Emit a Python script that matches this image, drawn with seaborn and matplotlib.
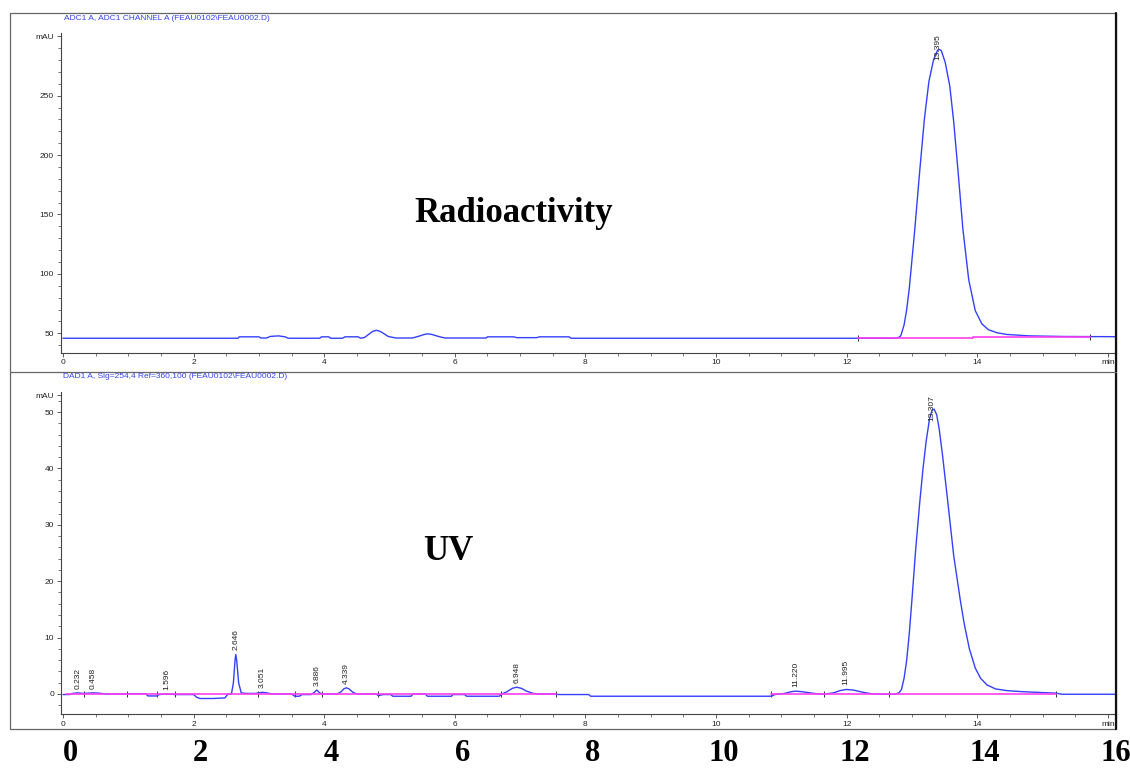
import numpy as np
import pandas as pd
import matplotlib
matplotlib.use("Agg")
import matplotlib.pyplot as plt
from matplotlib.patches import Rectangle
from matplotlib.lines import Line2D
from matplotlib.ticker import MultipleLocator
import seaborn as sns

# ---------------- data ----------------
# Radioactivity trace (ADC1 channel A), time in min, signal in mAU
ra_time = [0.00, 2.68, 2.70, 3.00, 3.03, 3.12, 3.17, 3.30, 3.40, 3.45,
           3.93, 3.96, 4.07, 4.10, 4.28, 4.32, 4.52, 4.56, 4.62, 4.68,
           4.74, 4.80, 4.86, 4.92, 4.98, 5.10, 5.35, 5.45, 5.52, 5.58,
           5.65, 5.75, 5.85, 6.48, 6.50, 6.90, 6.95, 7.25, 7.30, 7.75,
           7.78, 12.70, 12.80, 12.83, 12.88, 12.92, 12.96, 13.04, 13.12, 13.19,
           13.26, 13.33, 13.39, 13.42, 13.45, 13.51, 13.58, 13.64, 13.71, 13.78,
           13.87, 13.97, 14.07, 14.17, 14.30, 14.45, 14.80, 15.30, 16.12]
ra_signal = [45.8, 45.8, 47.0, 47.0, 46.0, 46.0, 47.3, 47.8, 47.0, 45.8,
             45.8, 47.0, 47.0, 45.8, 45.8, 47.0, 47.0, 45.8, 46.5, 49.0,
             51.5, 52.5, 51.5, 49.5, 47.3, 46.0, 46.0, 47.5, 48.8, 49.5,
             49.0, 47.3, 46.0, 46.0, 47.0, 47.0, 46.3, 46.3, 47.0, 47.0,
             45.8, 45.8, 46.5, 48.0, 57.0, 70.0, 88.0, 135.0, 187.0, 230.0,
             262.0, 280.0, 288.0, 289.0, 288.0, 278.0, 258.0, 228.0, 184.0, 138.0,
             95.0, 69.0, 58.0, 53.0, 50.5, 49.0, 47.8, 47.3, 47.1]
ra_base_time = [12.18, 13.94, 13.94, 15.73]
ra_base_signal = [45.8, 45.8, 47.2, 47.2]
ra_base_seg = [0, 0, 1, 1]
ra_event_time = [12.18, 15.73]
ra_event_signal = [45.8, 47.2]
ra_peak_rt = [13.395]
ra_peak_label = ["13.395"]

# UV trace (DAD1 A, Sig=254,4)
uv_time = [0.00, 0.10, 0.15, 0.232, 0.30, 0.40, 0.458, 0.55, 0.65, 0.98,
           1.00, 1.27, 1.30, 1.44, 1.47, 1.596, 1.72, 2.00, 2.05, 2.10,
           2.30, 2.48, 2.52, 2.58, 2.61, 2.635, 2.646, 2.66, 2.69, 2.73,
           2.80, 2.95, 3.00, 3.051, 3.12, 3.20, 3.50, 3.55, 3.62, 3.66,
           3.80, 3.85, 3.886, 3.93, 3.97, 4.20, 4.26, 4.30, 4.339, 4.38,
           4.44, 4.50, 4.80, 4.83, 4.90, 5.02, 5.05, 5.33, 5.36, 5.55,
           5.58, 5.95, 5.97, 6.15, 6.18, 6.68, 6.72, 6.80, 6.88, 6.948,
           7.02, 7.10, 7.20, 7.30, 7.50, 7.60, 8.05, 8.08, 10.85, 10.90,
           11.05, 11.15, 11.22, 11.32, 11.50, 11.65, 11.80, 11.90, 11.995, 12.10,
           12.25, 12.40, 12.65, 12.75, 12.80, 12.84, 12.88, 12.92, 12.96, 13.00,
           13.06, 13.12, 13.17, 13.22, 13.27, 13.31, 13.34, 13.38, 13.42, 13.47,
           13.55, 13.64, 13.74, 13.80, 13.88, 13.97, 14.05, 14.15, 14.28, 14.45,
           14.70, 15.00, 15.20, 15.30, 16.12]
uv_signal = [-0.1, -0.1, 0.1, 0.2, 0.1, 0.15, 0.2, 0.15, 0.0, 0.0,
             0.05, 0.05, -0.35, -0.35, -0.1, 0.0, -0.1, -0.1, -0.6, -0.8,
             -0.8, -0.7, -0.1, 0.0, 2.0, 6.0, 7.0, 6.0, 2.0, 0.2,
             0.1, 0.1, 0.2, 0.3, 0.2, 0.0, 0.0, -0.4, -0.4, -0.1,
             -0.1, 0.3, 0.7, 0.2, 0.0, 0.0, 0.4, 0.9, 1.1, 0.9,
             0.3, 0.0, 0.0, -0.3, -0.1, -0.1, -0.4, -0.4, 0.0, 0.0,
             -0.4, -0.4, -0.1, -0.1, -0.4, -0.4, 0.0, 0.4, 1.0, 1.2,
             1.0, 0.5, 0.1, 0.0, 0.0, -0.1, -0.1, -0.4, -0.4, -0.1,
             0.1, 0.4, 0.5, 0.4, 0.1, -0.05, 0.2, 0.6, 0.8, 0.7,
             0.3, 0.0, -0.05, 0.0, 0.2, 0.8, 2.8, 6.0, 10.8, 16.7,
             26.0, 34.0, 40.0, 45.0, 48.8, 50.4, 50.5, 49.5, 46.8, 42.2,
             34.0, 24.5, 16.7, 12.5, 8.0, 4.6, 2.8, 1.6, 0.9, 0.6,
             0.4, 0.25, 0.15, -0.05, -0.05]
uv_base_time = [0.05, 0.65, 0.68, 7.55, 10.84, 15.20]
uv_base_signal = [0.05, 0.05, 0.0, 0.0, 0.0, 0.0]
uv_base_seg = [0, 0, 1, 1, 2, 2]
uv_event_time = [0.32, 0.98, 1.44, 1.72, 2.98, 3.55, 3.97, 4.83, 6.70, 7.55,
                 10.84, 11.65, 12.65, 15.20]
uv_event_signal = [0.0] * len(uv_event_time)
uv_peak_rt = [0.232, 0.458, 1.596, 2.646, 3.051, 3.886, 4.339, 6.948,
              11.220, 11.995, 13.307]
uv_peak_label = ["0.232", "0.458", "1.596", "2.646", "3.051", "3.886",
                 "4.339", "6.948", "11.220", "11.995", "13.307"]

time_ticks = [0, 2, 4, 6, 8, 10, 12, 14, 16]
time_tick_labels = ["0", "2", "4", "6", "8", "10", "12", "14", "min"]
ra_yticks = [50, 100, 150, 200, 250, 300]
ra_ytick_labels = ["50", "100", "150", "200", "250", "mAU"]
uv_yticks = [0, 10, 20, 30, 40, 50, 53]
uv_ytick_labels = ["0", "10", "20", "30", "40", "50", "mAU"]
scale_ticks = [0, 2, 4, 6, 8, 10, 12, 14, 16]
scale_labels = ["0", "2", "4", "6", "8", "10", "12", "14", "16"]

ra_title = "ADC1 A, ADC1 CHANNEL A (FEAU0102\\FEAU0002.D)"
uv_title = "DAD1 A, Sig=254,4 Ref=360,100 (FEAU0102\\FEAU0002.D)"

# ---------------- style ----------------
sns.set_theme(style="ticks")
plt.rcParams["font.family"] = ["Liberation Sans", "DejaVu Sans"]
plt.rcParams["text.color"] = "black"

W, H = 1130, 770
BLUE = "#3340ff"
MAGENTA = "#ff3cf0"
GREY = "#444444"

fig = plt.figure(figsize=(W / 100, H / 100), dpi=100)


def fx(px):
    return px / W


def fy(py):
    return 1 - py / H


# outer frame and separator
fig.add_artist(Rectangle((fx(10), fy(729)), fx(1116) - fx(10), fy(13) - fy(729),
                         transform=fig.transFigure, fill=False,
                         edgecolor="#666666", lw=0.9))
fig.add_artist(Line2D([fx(1116), fx(1116)], [fy(13), fy(729)],
                      transform=fig.transFigure, color="#111111", lw=1.6))
fig.add_artist(Line2D([fx(10), fx(1116)], [fy(372), fy(372)],
                      transform=fig.transFigure, color="#666666", lw=0.9))

ax_top = fig.add_axes([fx(61), fy(352.5), fx(1116) - fx(61), fy(33) - fy(352.5)])
ax_bot = fig.add_axes([fx(61), fy(714), fx(1116) - fx(61), fy(391.7) - fy(714)])


def style_axis(ax, ylim, yticks, ylabels, yminor):
    ax.set_xlim(-0.03, 16.125)
    ax.set_ylim(*ylim)
    ax.set_xticks(time_ticks)
    ax.set_xticklabels(time_tick_labels)
    ax.set_yticks(yticks)
    ax.set_yticklabels(ylabels)
    ax.xaxis.set_minor_locator(MultipleLocator(0.5))
    ax.yaxis.set_minor_locator(MultipleLocator(yminor))
    for s in ("top", "right"):
        ax.spines[s].set_visible(False)
    for s in ("left", "bottom"):
        ax.spines[s].set_color(GREY)
        ax.spines[s].set_linewidth(0.8)
    ax.tick_params(which="major", direction="out", length=3, width=0.6,
                   colors=GREY, labelsize=6, pad=2, labelcolor="#222222")
    ax.tick_params(which="minor", direction="out", length=2, width=0.5,
                   colors=GREY)
    ax.set_xlabel("")
    ax.set_ylabel("")
    ax.set_facecolor("none")


# ---- Radioactivity panel ----
sns.lineplot(x=ra_time, y=ra_signal, ax=ax_top, color=BLUE, lw=1.0,
             estimator=None, sort=False)
ra_base = pd.DataFrame({"t": ra_base_time, "v": ra_base_signal, "seg": ra_base_seg})
sns.lineplot(data=ra_base, x="t", y="v", units="seg", estimator=None, sort=False,
             ax=ax_top, color=MAGENTA, lw=1.2, legend=False)
sns.scatterplot(x=ra_event_time, y=ra_event_signal, ax=ax_top, marker="|",
                s=25, color="#333333", linewidth=0.7)
for rt, lab in zip(ra_peak_rt, ra_peak_label):
    h = np.interp(rt, ra_time, ra_signal)
    ax_top.annotate(lab, xy=(rt, h), xytext=(0, 2), textcoords="offset points",
                    rotation=90, ha="center", va="center", fontsize=6,
                    color="#222222")
style_axis(ax_top, (33.8, 302.8), ra_yticks, ra_ytick_labels, 10)

# ---- UV panel ----
sns.lineplot(x=uv_time, y=uv_signal, ax=ax_bot, color=BLUE, lw=1.0,
             estimator=None, sort=False)
uv_base = pd.DataFrame({"t": uv_base_time, "v": uv_base_signal, "seg": uv_base_seg})
sns.lineplot(data=uv_base, x="t", y="v", units="seg", estimator=None, sort=False,
             ax=ax_bot, color=MAGENTA, lw=1.2, legend=False)
sns.scatterplot(x=uv_event_time, y=uv_event_signal, ax=ax_bot, marker="|",
                s=25, color="#333333", linewidth=0.7)
uv_max = max(uv_signal)
for rt, lab in zip(uv_peak_rt, uv_peak_label):
    h = np.interp(rt, uv_time, uv_signal)
    if h > 0.8 * uv_max:
        ax_bot.annotate(lab, xy=(rt, h), xytext=(0, 2), textcoords="offset points",
                        rotation=90, ha="center", va="center", fontsize=6,
                        color="#222222")
    else:
        ax_bot.annotate(lab, xy=(rt, max(h, 0.0)), xytext=(0, 3),
                        textcoords="offset points", rotation=90, ha="center",
                        va="bottom", fontsize=6, color="#222222")
style_axis(ax_bot, (-3.55, 53.6), uv_yticks, uv_ytick_labels, 2)

# headers
fig.text(fx(64), fy(18), ra_title, fontsize=6, color="#3344ee", va="center", ha="left")
fig.text(fx(63), fy(377), uv_title, fontsize=6, color="#3344ee", va="center", ha="left")

# panel names
fig.text(fx(513.5), fy(222), "Radioactivity", fontsize=25, fontweight="bold",
         family=["Liberation Serif", "DejaVu Serif"], ha="center", va="baseline",
         color="black")
fig.text(fx(448), fy(560), "UV", fontsize=25, fontweight="bold",
         family=["Liberation Serif", "DejaVu Serif"], ha="center", va="baseline",
         color="black")

# big time scale under the chart
ax_scale = fig.add_axes([fx(70), fy(738), fx(1116) - fx(70), 0.0005])
ax_scale.set_xlim(0, 16)
ax_scale.set_xticks(scale_ticks)
ax_scale.set_xticklabels(scale_labels, fontsize=22, fontweight="bold",
                         family=["Liberation Serif", "DejaVu Serif"])
ax_scale.set_yticks([])
ax_scale.tick_params(axis="x", length=0, pad=1, colors="black")
for s in ax_scale.spines.values():
    s.set_visible(False)
ax_scale.set_facecolor("none")

fig.savefig("out.png", dpi=100, facecolor="white")
